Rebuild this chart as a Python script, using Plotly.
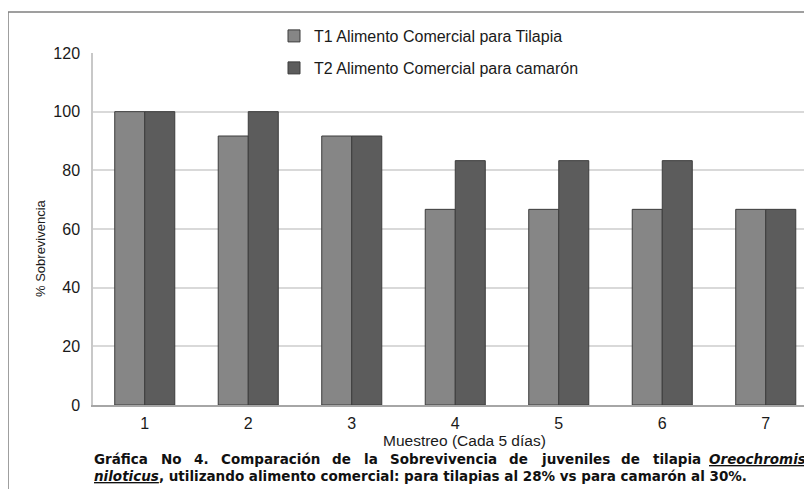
import plotly.graph_objects as go

# ---- data ----
muestreo = [1, 2, 3, 4, 5, 6, 7]
t1_tilapia = [100, 91.7, 91.7, 66.7, 66.7, 66.7, 66.7]
t2_camaron = [100, 100, 91.7, 83.3, 83.3, 83.3, 66.7]
serie_nombres = ["T1 Alimento Comercial para Tilapia", "T2 Alimento Comercial para camarón"]
y_ticks = [0, 20, 40, 60, 80, 100, 120]

# page body adds an 8px offset; work in reference-pixel coordinates
OFF = 8
W, H = 812 - OFF, 489 - OFF
ML, MR, MT, MB = 93 - OFF, 0, 53 - OFF, 489 - 405
PW, PH = W - ML - MR, H - MT - MB
FONT = "Liberation Sans, Arial, sans-serif"
CAP_FONT = "DejaVu Sans, sans-serif"


def px(x):
    return (x - OFF - ML) / PW


def py(y):
    return (H - MB - (y - OFF)) / PH


# DejaVu Sans Bold advance widths (units per 2048 em) for justifying the caption line
BOLD_W = {" ": 713, ".": 780, ",": 780, ":": 819, "%": 2048, "4": 1425,
          "a": 1382, "b": 1466, "c": 1212, "d": 1466, "e": 1389, "f": 891, "g": 1466,
          "h": 1458, "i": 702, "j": 702, "l": 702, "m": 2134, "n": 1458, "o": 1407,
          "p": 1466, "r": 1010, "s": 1219, "t": 979, "u": 1458, "v": 1331,
          "á": 1382, "ó": 1407, "G": 1675, "N": 1716, "C": 1499, "S": 1477, "O": 1741}


def text_w(s, size):
    return sum(BOLD_W.get(ch, 1400) for ch in s) * size / 2048.0


fig = go.Figure()
fig.add_trace(go.Bar(
    x=muestreo, y=t1_tilapia, name=serie_nombres[0], legend="legend",
    marker=dict(color="#868686", line=dict(color="#3c3c3c", width=1)),
))
fig.add_trace(go.Bar(
    x=muestreo, y=t2_camaron, name=serie_nombres[1], legend="legend2",
    marker=dict(color="#5c5c5c", line=dict(color="#3c3c3c", width=1)),
))

annotations = []
annotations.append(dict(
    text="% Sobrevivencia", xref="paper", yref="paper", x=px(40), y=py(248),
    textangle=-90, showarrow=False, font=dict(family=FONT, size=13, color="#1a1a1a"),
    xanchor="center", yanchor="middle"))
annotations.append(dict(
    text="Muestreo (Cada 5 días)", xref="paper", yref="paper", x=px(464), y=py(440),
    showarrow=False, font=dict(family=FONT, size=15.5, color="#1a1a1a"),
    xanchor="center", yanchor="middle"))

# caption line 1, justified between x=92 and x=808
CAP = 13.5
line1_words = ["Gráfica", "No", "4.", "Comparación", "de", "la", "Sobrevivencia",
               "de", "juveniles", "de", "tilapia", "Oreochromis"]
left, right = 92, 808
widths = [text_w(wd, CAP) for wd in line1_words]
gap = (right - left - sum(widths)) / (len(line1_words) - 1)
xcur = left
for i, (wd, ww) in enumerate(zip(line1_words, widths)):
    last = i == len(line1_words) - 1
    txt = "<b><i><u>" + wd + "</u></i></b>" if last else "<b>" + wd + "</b>"
    annotations.append(dict(
        text=txt, xref="paper", yref="paper", x=px(right if last else xcur), y=py(459),
        showarrow=False, font=dict(family=CAP_FONT, size=CAP, color="#111111"),
        xanchor="right" if last else "left", yanchor="middle"))
    xcur += ww + gap
annotations.append(dict(
    text="<b><i><u>niloticus</u></i>, utilizando alimento comercial: para tilapias al 28% vs para camarón al 30%.</b>",
    xref="paper", yref="paper", x=px(92), y=py(476), showarrow=False,
    font=dict(family=CAP_FONT, size=CAP, color="#111111"), xanchor="left", yanchor="middle"))

legend_common = dict(
    xref="paper", yref="paper", xanchor="left", yanchor="middle",
    bgcolor="rgba(0,0,0,0)", font=dict(family=FONT, size=16, color="#1a1a1a"),
    orientation="v",
)

fig.update_layout(
    width=W, height=H,
    margin=dict(l=ML, r=MR, t=MT, b=MB),
    paper_bgcolor="white", plot_bgcolor="white",
    barmode="group", bargap=0.42, bargroupgap=0,
    showlegend=True,
    font=dict(family=FONT, size=16, color="#1a1a1a"),
    legend=dict(x=px(274), y=py(36), **legend_common),
    legend2=dict(x=px(274), y=py(68), **legend_common),
    xaxis=dict(
        range=[0.5, 0.5 + PW / 103.5], tickvals=muestreo, ticktext=[str(m) for m in muestreo],
        showgrid=False, showline=True, linecolor="#a6a6a6", linewidth=1.5,
        ticks="", ticklabelstandoff=3, zeroline=False,
        tickfont=dict(family=FONT, size=16, color="#1a1a1a"),
    ),
    yaxis=dict(
        range=[0, 120], tickvals=y_ticks, showgrid=True, gridcolor="#d9d9d9", gridwidth=1.5,
        showline=True, linecolor="#c8c8c8", linewidth=1.5, zeroline=False,
        ticks="", ticklabelstandoff=8,
        tickfont=dict(family=FONT, size=16, color="#1a1a1a"),
    ),
    annotations=annotations,
    shapes=[dict(type="rect", xref="paper", yref="paper",
                 x0=px(8), x1=px(840), y0=py(520), y1=py(12),
                 line=dict(color="#808080", width=1.5), fillcolor="rgba(0,0,0,0)", layer="below")],
)

fig.write_html("out.html")
